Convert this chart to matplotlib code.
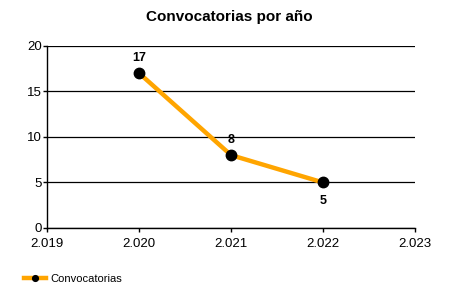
import matplotlib
matplotlib.use("Agg")
import matplotlib.pyplot as plt
from matplotlib.ticker import FuncFormatter

plt.rcParams['font.family'] = ['Liberation Sans', 'DejaVu Sans']

years = [2020, 2021, 2022]
counts = [17, 8, 5]
label_offsets = [11, 11, -13]   # points above/below marker
x_ticks = [2019, 2020, 2021, 2022, 2023]
y_ticks = [0, 5, 10, 15, 20]

fig = plt.figure(figsize=(4.5, 3), dpi=100)
ax = fig.add_axes([0.105, 0.24, 0.817, 0.607])

ax.plot(years, counts, color="#FFA500", lw=3.2, marker="o", ms=7.5,
        mfc="black", mec="black", label="Convocatorias", zorder=3)

for x, y, off in zip(years, counts, label_offsets):
    ax.annotate(str(y), (x, y), xytext=(0, off), textcoords="offset points",
                ha="center", va="center", fontsize=9, fontweight="bold")

ax.set_xlim(2019, 2023)
ax.set_ylim(0, 20)
ax.set_xticks(x_ticks)
ax.set_yticks(y_ticks)
ax.xaxis.set_major_formatter(FuncFormatter(lambda v, p: f"{int(v):,}".replace(",", ".")))
ax.yaxis.grid(True, color="black", lw=0.9)
ax.set_axisbelow(True)
for s in ("top", "right"):
    ax.spines[s].set_visible(False)
ax.spines["left"].set_linewidth(1)
ax.spines["bottom"].set_linewidth(1)
ax.tick_params(labelsize=9.5, length=3, width=1)
ax.tick_params(axis="x", pad=4.5)
ax.tick_params(axis="y", pad=1)

fig.suptitle("Convocatorias por año", x=0.51, y=0.965, fontsize=11, fontweight="bold")

fig.legend(loc="lower left", bbox_to_anchor=(0.03, 0.02), frameon=False,
           fontsize=8, handlelength=2.0, handletextpad=0.4, markerscale=0.55)

fig.savefig("out.png", dpi=100)
